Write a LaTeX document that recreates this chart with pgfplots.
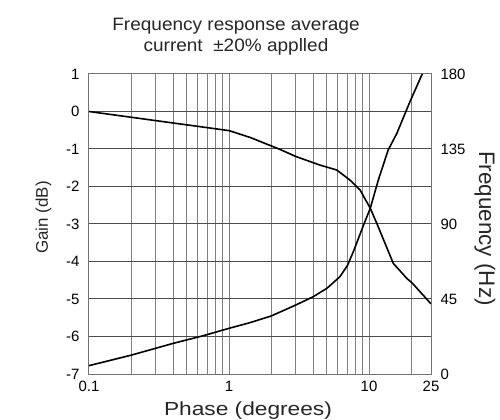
\documentclass[border=0pt]{standalone}
\usepackage{fontspec}
\setmainfont{Liberation Sans}
\usepackage{pgfplots}
\pgfplotsset{compat=1.18}

\begin{document}
\begin{tikzpicture}
\begin{axis}[
  at={(0,0)}, anchor=south west,
  scale only axis, width=342bp, height=300bp,
  xmode=log, xmin=0.1, xmax=27.7,
  ymin=-7, ymax=1,
  major tick length=0pt, minor tick length=0pt,
  tick label style={font=\fontsize{15}{15}\selectfont},
  xtick={0.1,1,10,27.7}, xticklabels={0.1,1,10,25},
  minor xtick={0.2,0.3,0.4,0.5,0.6,0.7,0.8,0.9,2,3,4,5,6,7,8,9,20},
  ytick={-7,-6,-5,-4,-3,-2,-1,0,1},
  yticklabels={-7,-6,-5,-4,-3,-2,-1,0,1},
  xmajorgrids, xminorgrids, ymajorgrids,
  major x grid style={draw=black!50, line width=1bp},
  minor x grid style={draw=black!50, line width=1bp},
  major y grid style={draw=black!70, line width=1bp},
  axis line style={draw=black!55, line width=1bp},
  xticklabel style={yshift=-4bp},
  yticklabel style={xshift=-6bp},
]
  % gain (dB)
  \addplot[black, line width=1.6bp] coordinates {
    (0.1,0) (1,-0.51) (1.41,-0.69) (2.31,-1.01) (3,-1.2) (4.47,-1.43)
    (5.88,-1.56) (7.31,-1.83) (8.62,-2.09) (10.2,-2.58) (11.35,-2.98)
    (14.9,-4.05) (18.6,-4.45) (20.4,-4.58) (27.7,-5.13)
  };
\end{axis}
\begin{axis}[
  at={(0,0)}, anchor=south west,
  scale only axis, width=342bp, height=300bp,
  xmode=log, xmin=0.1, xmax=27.7,
  ymin=0, ymax=180,
  major tick length=0pt, minor tick length=0pt,
  tick label style={font=\fontsize{15}{15}\selectfont},
  axis y line*=right, axis x line=none,
  axis line style={draw=black!55, line width=1bp},
  ytick={0,45,90,135,180},
  yticklabels={0,45,90,135,180},
  yticklabel style={xshift=6bp},
]
  % frequency (Hz)
  \addplot[black, line width=1.6bp] coordinates {
    (0.1,5) (0.2,11.3) (0.4,18.4) (0.65,22.9) (1,27.4) (1.41,30.8)
    (2,34.8) (3,41.4) (4,46.4) (5,51.4) (6.2,58.4) (7,65) (7.73,73.4)
    (9.1,89) (10.2,99.4) (11.65,116.4) (13.7,134.4) (15.8,144.4)
    (18.1,156.4) (19.6,163.4) (23.8,179.4) (24.1,180)
  };
\end{axis}

\node[anchor=base, font=\fontsize{18}{18}\selectfont, text=black!85]
  at (147bp,343bp) {\scalebox{1.06}[1]{Frequency response average}};
\node[anchor=base, font=\fontsize{18}{18}\selectfont, text=black!85]
  at (147bp,322bp) {\scalebox{1.06}[1]{current\ \ ±20\% applled}};
\node[anchor=base, font=\fontsize{19}{19}\selectfont, text=black!85]
  at (159bp,-41.7bp) {\scalebox{1.2}[1]{Phase (degrees)}};
\node[anchor=base, rotate=90, font=\fontsize{17}{17}\selectfont, text=black!85]
  at (-41bp,156.5bp) {Gain (dB)};
\node[anchor=base, rotate=-90, font=\fontsize{22.5}{22.5}\selectfont, text=black!85]
  at (390bp,145.5bp) {Frequency (Hz)};

\pgfresetboundingbox
\path (-89bp,-46bp) rectangle (411bp,374bp);
\end{tikzpicture}
\end{document}
